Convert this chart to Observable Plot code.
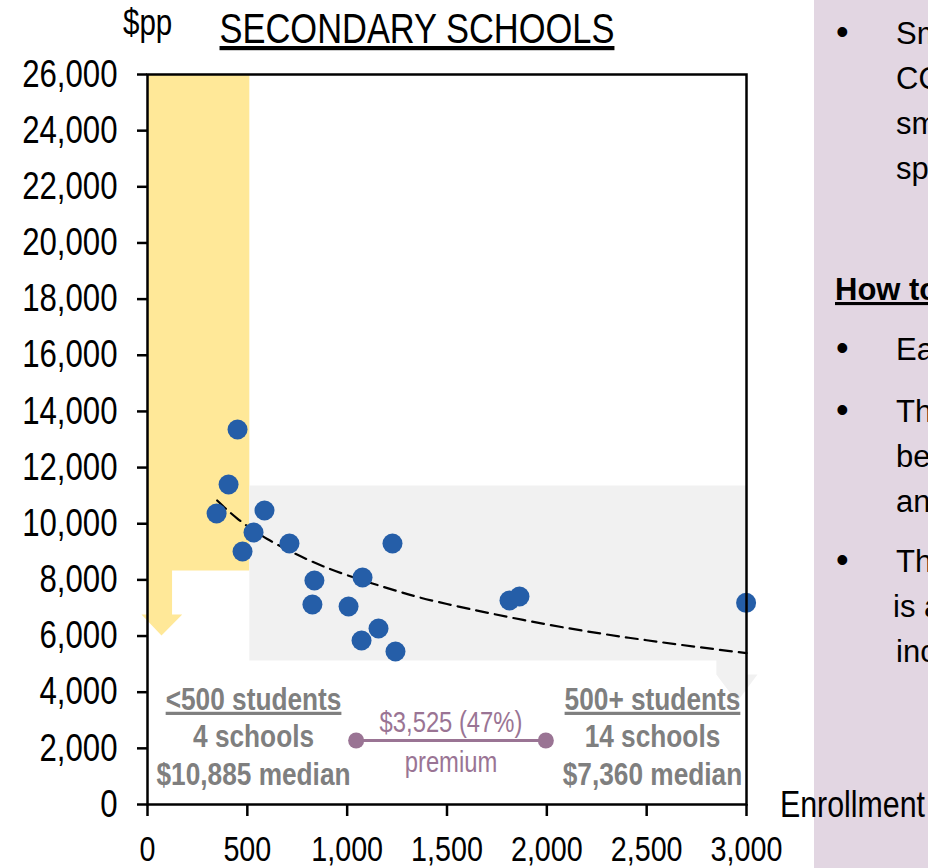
<!DOCTYPE html>
<html>
<head>
<meta charset="utf-8">
<script src="https://cdn.jsdelivr.net/npm/d3@7"></script>
<script src="https://cdn.jsdelivr.net/npm/@observablehq/plot@0.6"></script>
<style>
  body { margin: 0; background: #fff; }
  #wrap { position: relative; width: 928px; height: 868px; overflow: hidden; }
  #panel { position: absolute; left: 814px; top: 0; width: 114px; height: 868px; background: #E2D6E2; }
  #chart { position: absolute; left: 0; top: 0; }
  #overlay { position: absolute; left: 0; top: 0; pointer-events: none; }
</style>
</head>
<body>
<div id="wrap">
  <div id="panel"></div>
  <div id="chart"></div>
  <svg id="overlay" width="928" height="868"></svg>
</div>
<script>
// ---- Data ----
const enrollment = [451, 406, 346, 586, 531, 476, 711, 836, 826, 1007, 1077, 1072, 1157, 1227, 1242, 1813, 1863, 2998];
const spendPerPupil = [13355, 11396, 10363, 10470, 9687, 9010, 9295, 7977, 7123, 7051, 8084, 5840, 6268, 9295, 5449, 7265, 7407, 7183];

// dashed trend curve, read at a few x positions
const trendEnrollment = [349, 450, 600, 800, 1000, 1250, 1500, 2000, 2500, 3000];
const trendSpend = [10826, 10184, 9457, 8730, 8166, 7602, 7141, 6414, 5850, 5390];

const xTicks = [0, 500, 1000, 1500, 2000, 2500, 3000];
const yTicks = [0, 2000, 4000, 6000, 8000, 10000, 12000, 14000, 16000, 18000, 20000, 22000, 24000, 26000];

// highlighted regions (data units)
const smallRegionX = [0, 510, 510, 123, 123, 174, 70, -30, 0];
const smallRegionY = [26000, 26000, 8330, 8330, 6770, 6770, 6020, 6770, 6770];
const largeRegionX = [510, 3000, 3000, 3055, 2952, 2849, 2849, 510];
const largeRegionY = [11360, 11360, 4630, 4630, 3650, 4630, 5130, 5130];

// group annotations
const smallLabels = ["<500 students", "4 schools", "$10,885 median"];
const largeLabels = ["500+ students", "14 schools", "$7,360 median"];
const labelRowsY = [3739, 2422, 1068];
const smallLabelX = 531;
const largeLabelX = 2529;

const premiumX = [1045, 1995];
const premiumY = 2280;
const premiumLabels = ["$3,525 (47%)", "premium"];
const premiumLabelY = [2920, 1496];

const panelLines = [
  {t: "•", x: 836, y: 44}, {t: "Small", x: 896, y: 44},
  {t: "COVID", x: 896, y: 89}, {t: "smaller", x: 896, y: 134}, {t: "spend", x: 896, y: 179},
  {t: "How to read", x: 835, y: 300, bold: true, u: true},
  {t: "•", x: 836, y: 360}, {t: "Each", x: 896, y: 360},
  {t: "•", x: 836, y: 422}, {t: "The", x: 896, y: 422}, {t: "between", x: 896, y: 467}, {t: "and", x: 896, y: 512},
  {t: "•", x: 836, y: 572}, {t: "The", x: 896, y: 572}, {t: "is a", x: 893, y: 617}, {t: "include", x: 896, y: 662}
];

// ---- Build tables ----
const points = enrollment.map((x, i) => ({x, y: spendPerPupil[i]}));
const trend = trendEnrollment.map((x, i) => ({x, y: trendSpend[i]}));
const smallRegion = smallRegionX.map((x, i) => ({x, y: smallRegionY[i]}));
const largeRegion = largeRegionX.map((x, i) => ({x, y: largeRegionY[i]}));
const smallText = smallLabels.map((t, i) => ({t, x: smallLabelX, y: labelRowsY[i]}));
const largeText = largeLabels.map((t, i) => ({t, x: largeLabelX, y: labelRowsY[i]}));
const premiumText = premiumLabels.map((t, i) => ({t, x: (premiumX[0] + premiumX[1]) / 2, y: premiumLabelY[i]}));

const FONT = '"Liberation Sans", Arial, sans-serif';
const GRAY = "#7F7F7F";
const PURPLE = "#9A7494";
const CONDENSE = 0.82; // emulate a narrow face

const chart = Plot.plot({
  width: 928,
  height: 868,
  marginLeft: 147,
  marginRight: 182,
  marginTop: 74,
  marginBottom: 64,
  style: {background: "transparent", fontFamily: FONT, color: "#000", overflow: "visible"},
  x: {domain: [0, 3000]},
  y: {domain: [0, 26000]},
  marks: [
    Plot.line(smallRegion, {x: "x", y: "y", fill: "#FFE898", stroke: "none"}),
    Plot.line(largeRegion, {x: "x", y: "y", fill: "#F1F1F1", stroke: "none"}),
    Plot.line(trend, {x: "x", y: "y", stroke: "#000", strokeWidth: 2.2, strokeDasharray: "12,7", curve: "natural"}),
    Plot.dot(points, {x: "x", y: "y", r: 10, fill: "#255EA8", stroke: "none"}),
    Plot.link([{}], {x1: premiumX[0], x2: premiumX[1], y1: premiumY, y2: premiumY, stroke: PURPLE, strokeWidth: 3}),
    Plot.dot(premiumX, {x: d => d, y: () => premiumY, r: 8, fill: PURPLE, stroke: "none"}),
    Plot.text(premiumText, {x: "x", y: "y", text: "t", fill: PURPLE, fontSize: 29, lineAnchor: "middle"}),
    Plot.text(smallText, {x: "x", y: "y", text: "t", fill: GRAY, fontSize: 32, fontWeight: "bold", lineAnchor: "middle"}),
    Plot.text(largeText, {x: "x", y: "y", text: "t", fill: GRAY, fontSize: 32, fontWeight: "bold", lineAnchor: "middle"}),
    Plot.frame({stroke: "#000", strokeWidth: 2.5}),
    Plot.axisX({ticks: xTicks, tickFormat: d3.format(","), tickSize: 12, tickPadding: 20, fontSize: 35, strokeWidth: 2.5, label: null}),
    Plot.axisY({ticks: yTicks, tickFormat: d3.format(","), tickSize: 10, tickPadding: 20, fontSize: 38, strokeWidth: 2.5, label: null})
  ]
});
document.getElementById("chart").appendChild(chart);

function condense(node) {
  const len = node.getComputedTextLength();
  if (len > 0) {
    node.setAttribute("textLength", (len * CONDENSE).toFixed(2));
    node.setAttribute("lengthAdjust", "spacingAndGlyphs");
  }
}

// condense all chart texts, underline the group headers
d3.select(chart).selectAll("text").each(function() {
  const tspans = this.querySelectorAll("tspan");
  if (tspans.length) tspans.forEach(condense); else condense(this);
  if (/students/.test(this.textContent)) this.style.textDecoration = "underline";
});

// ---- Overlay texts ----
const ov = d3.select("#overlay");
const pp = ov.append("text").attr("x", 123).attr("y", 35).attr("font-family", FONT).attr("font-size", 36).text("$pp");
const title = ov.append("text").attr("x", 417).attr("y", 43).attr("text-anchor", "middle").attr("font-family", FONT)
  .attr("font-size", 42).style("text-decoration", "underline").text("SECONDARY SCHOOLS");
const enr = ov.append("text").attr("x", 780).attr("y", 817).attr("font-family", FONT).attr("font-size", 37).text("Enrollment");
[pp, title, enr].forEach(s => condense(s.node()));

panelLines.forEach(l => {
  const t = ov.append("text").attr("x", l.x).attr("y", l.y)
    .attr("font-family", FONT)
    .attr("font-size", l.t === "•" ? 36 : 31).text(l.t);
  if (l.bold) t.attr("font-weight", "bold");
  if (l.u) t.style("text-decoration", "underline");
});
</script>
</body>
</html>
